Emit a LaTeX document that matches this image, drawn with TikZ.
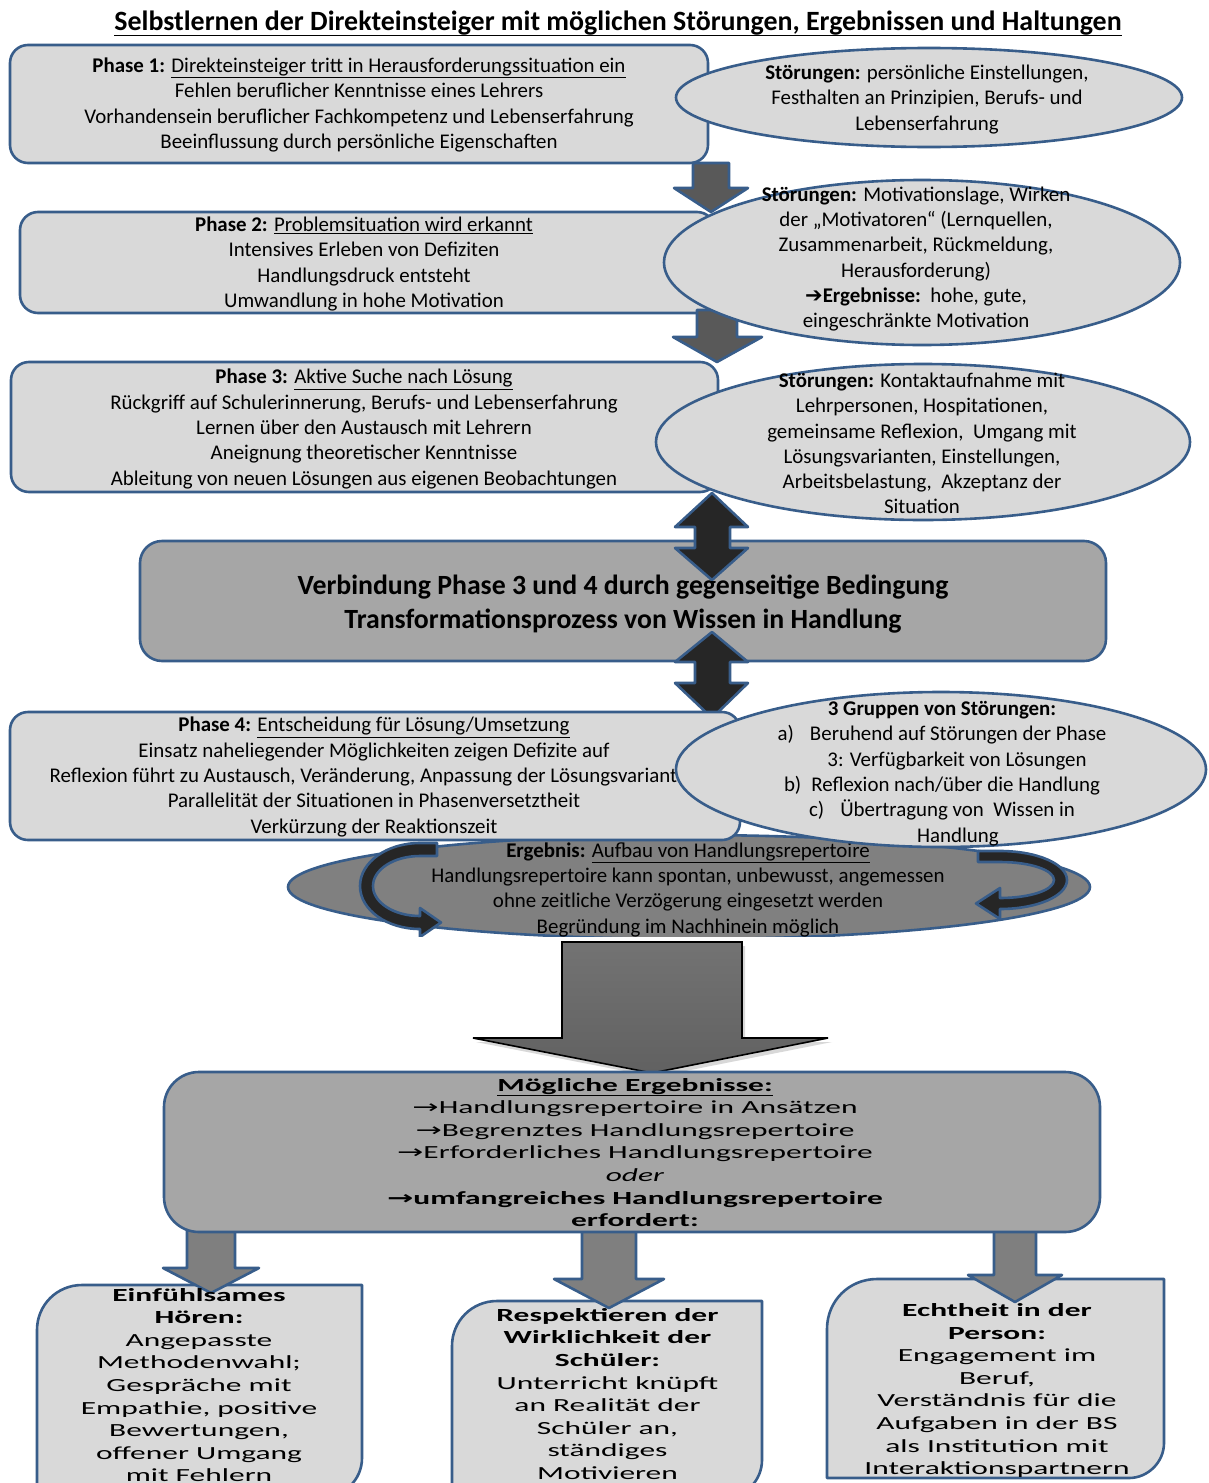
\documentclass[tikz,border=0pt]{standalone}
\usepackage{fontspec}
\setmainfont{Carlito}
\newfontfamily\widefont[FakeStretch=1.7]{Carlito}
\newfontfamily\symfont{DejaVu Sans}
\newfontfamily\symwidefont[FakeStretch=1.7]{DejaVu Sans}
\usetikzlibrary{shapes.geometric}

\newcommand\bodysize{\fontsize{20.9pt}{25.3pt}\selectfont}
\newcommand\widesize{\widefont\fontsize{18.5pt}{22.6pt}\selectfont}
\newcommand\thinarrow{{\symwidefont →}}

\definecolor{edgeblue}{RGB}{56,93,138}
\definecolor{lightfill}{RGB}{217,217,217}
\definecolor{midfill}{RGB}{166,166,166}
\definecolor{resfill}{RGB}{128,128,128}
\definecolor{arrowdark}{RGB}{89,89,89}
\definecolor{arrowblack}{RGB}{38,38,38}
\definecolor{arrowgray}{RGB}{127,127,127}

\tikzset{
  blueline/.style={draw=edgeblue, line width=2.6pt, line join=round},
  lightbox/.style={blueline, fill=lightfill, rectangle, rounded corners=18pt, inner sep=0pt},
  lightoval/.style={blueline, fill=lightfill, ellipse, inner sep=0pt},
  txt/.style={align=center, inner sep=0pt, font=\bodysize},
  widetxt/.style={align=center, inner sep=0pt, font=\widesize},
}

\begin{document}
\begin{tikzpicture}[x=1pt,y=-1pt]
\path[use as bounding box, clip] (0,0) rectangle (1208,1483);
\fill[white] (0,0) rectangle (1208,1483);

% heading
\node[inner sep=0pt, font=\bfseries\fontsize{27.9pt}{32pt}\selectfont] (title) at (618,23)
  {Selbstlernen der Direkteinsteiger mit möglichen Störungen, Ergebnissen und Haltungen};
\draw[line width=1.8pt] ([yshift=-5pt]title.base west) -- ([yshift=-5pt]title.base east);

% phase boxes 1-3
\node[lightbox, minimum width=698pt, minimum height=118pt] (p1) at (359,104) {};
\node[lightbox, minimum width=695pt, minimum height=101pt] (p2) at (367.5,262.5) {};
\node[lightbox, minimum width=707pt, minimum height=130pt] (p3) at (364.5,427) {};

\node[txt] (p1t) at (359,105) {\textbf{Phase 1:} \underline{Direkteinsteiger tritt in Herausforderungssituation ein}\\
  Fehlen beruflicher Kenntnisse eines Lehrers\\
  Vorhandensein beruflicher Fachkompetenz und Lebenserfahrung\\
  Beeinflussung durch persönliche Eigenschaften};
\node[txt] (p2t) at (364,264) {\textbf{Phase 2:} \underline{Problemsituation wird erkannt}\\
  Intensives Erleben von Defiziten\\
  Handlungsdruck entsteht\\
  Umwandlung in hohe Motivation};
\node[txt] (p3t) at (364,429) {\textbf{Phase 3:} \underline{Aktive Suche nach Lösung}\\
  Rückgriff auf Schulerinnerung, Berufs- und Lebenserfahrung\\
  Lernen über den Austausch mit Lehrern\\
  Aneignung theoretischer Kenntnisse\\
  Ableitung von neuen Lösungen aus eigenen Beobachtungen};

% block arrows between the phases
\draw[blueline, fill=arrowdark] (693,163) -- (729,163) -- (729,188) -- (748,188) -- (711,212)
  -- (674,188) -- (693,188) -- cycle;
\draw[blueline, fill=arrowdark] (697,310) -- (737,310) -- (737,337) -- (762,337) -- (717,362)
  -- (673,337) -- (697,337) -- cycle;

% disturbance ovals
\node[lightoval, minimum width=506pt, minimum height=99pt] (e1) at (929,97.5) {};
\node[lightoval, minimum width=516pt, minimum height=165pt] (e2) at (922,262.5) {};
\node[lightoval, minimum width=534pt, minimum height=156pt] (e3) at (923,442) {};

\node[txt] (e1t) at (927,99.5) {\textbf{Störungen:} persönliche Einstellungen,\\
  Festhalten an Prinzipien, Berufs- und\\ Lebenserfahrung};
\node[txt] (e2t) at (916,259) {\textbf{Störungen:} Motivationslage, Wirken\\
  der „Motivatoren“ (Lernquellen,\\
  Zusammenarbeit, Rückmeldung,\\
  Herausforderung)\\
  {\symfont\bfseries\fontsize{21pt}{25.3pt}\selectfont ➔}\textbf{Ergebnisse:}\ \ hohe, gute,\\
  eingeschränkte Motivation};
\node[txt] (e3t) at (922,443.5) {\textbf{Störungen:} Kontaktaufnahme mit\\
  Lehrpersonen, Hospitationen,\\
  gemeinsame Reflexion,\ \ Umgang mit\\
  Lösungsvarianten, Einstellungen,\\
  Arbeitsbelastung,\ \ Akzeptanz der\\
  Situation};

% central box linking phase 3 and 4
\node[blueline, fill=midfill, rectangle, rounded corners=22pt, minimum width=966pt,
  minimum height=120pt, inner sep=0pt] (mid) at (623,601) {};
\node[txt, font=\bfseries\fontsize{27.8pt}{34pt}\selectfont] (midt) at (623,604)
  {Verbindung Phase 3 und 4 durch gegenseitige Bedingung\\Transformationsprozess von Wissen in Handlung};

% double-headed block arrows
\draw[blueline, fill=arrowblack] (712,493) -- (748,527) -- (730,527) -- (730,548) -- (748,548)
  -- (712,580) -- (675,548) -- (695,548) -- (695,527) -- (675,527) -- cycle;
\draw[blueline, fill=arrowblack] (712,632) -- (748,662) -- (730,662) -- (730,683) -- (748,683)
  -- (712,718) -- (675,683) -- (695,683) -- (695,662) -- (675,662) -- cycle;

% result oval with the two circular arrows
\begin{scope}
  \clip (0,780) rectangle (1208,936);
  \node[blueline, fill=resfill, ellipse, minimum width=802pt, minimum height=104pt,
    inner sep=0pt] (res) at (689,887) {};
  \draw[blueline, fill=arrowblack] (437,843) -- (420,843)
    .. controls (387,843) and (360,862) .. (360,886)
    .. controls (360,910) and (387,929) .. (420,929)
    -- (420,937) -- (441,922.5) -- (420,908) -- (420,916)
    .. controls (394,916) and (373,902.6) .. (373,886)
    .. controls (373,869.4) and (394,856) .. (420,856) -- (437,856) -- cycle;
  \draw[blueline, fill=arrowblack] (978,851) -- (1000,851)
    .. controls (1037,851) and (1067,864) .. (1067,880)
    .. controls (1067,896) and (1037,909) .. (1000,909)
    -- (1000,919) -- (976,903.5) -- (1000,888) -- (1000,898)
    .. controls (1030,898) and (1054,890) .. (1054,880)
    .. controls (1054,870) and (1030,862) .. (1000,862) -- (978,862) -- cycle;
  \node[txt] (rest) at (688,889.5) {\textbf{Ergebnis:} \underline{Aufbau von Handlungsrepertoire}\\
    Handlungsrepertoire kann spontan, unbewusst, angemessen\\
    ohne zeitliche Verzögerung eingesetzt werden\\
    Begründung im Nachhinein möglich};
\end{scope}

% phase 4
\node[lightbox, minimum width=730pt, minimum height=128pt] (p4) at (375,776) {};
\node[txt] (p4t) at (374,777) {\textbf{Phase 4:} \underline{Entscheidung für Lösung/Umsetzung}\\
  Einsatz naheliegender Möglichkeiten zeigen Defizite auf\\
  Reflexion führt zu Austausch, Veränderung, Anpassung der Lösungsvarianten\\
  Parallelität der Situationen in Phasenversetztheit\\
  Verkürzung der Reaktionszeit};
\node[lightoval, minimum width=530pt, minimum height=155pt] (e4) at (941,769.5) {};
\node[txt] (e4t) at (942,773.5) {\textbf{3 Gruppen von Störungen:}\\
  a)\hspace{16pt}Beruhend auf Störungen der Phase\\
  \hspace*{30pt}3: Verfügbarkeit von Lösungen\\
  b)\hspace{10pt}Reflexion nach/über die Handlung\\
  c)\hspace{16pt}Übertragung von\ \ Wissen in\\
  \hspace*{32pt}Handlung};

% large downward arrow
\fill[black!30, opacity=0.5] (565,946) -- (745,946) -- (745,1042) -- (832,1042) -- (655,1077)
  -- (476,1042) -- (565,1042) -- cycle;
\draw[draw=black, line width=1.6pt, top color=black!55, middle color=black, bottom color=black!62]
  (562,942) -- (742,942) -- (742,1038) -- (828,1038) -- (652,1073) -- (473,1038) -- (562,1038) -- cycle;

% attitude boxes
\draw[blueline, fill=lightfill] (37,1500) -- (37,1330) .. controls (37,1305) and (57,1285) .. (82,1285)
  -- (362,1285) -- (362,1458) .. controls (362,1480) and (344,1497) .. (322,1497) -- (37,1497) -- cycle;
\draw[blueline, fill=lightfill] (452,1500) -- (452,1346) .. controls (452,1321) and (472,1301) .. (497,1301)
  -- (762,1301) -- (762,1460) .. controls (762,1480) and (746,1497) .. (727,1497) -- (452,1497) -- cycle;
\draw[blueline, fill=lightfill] (827,1478) -- (827,1329) .. controls (827,1301) and (849,1279) .. (877,1279)
  -- (1164,1279) -- (1164,1443) .. controls (1164,1462) and (1148,1478) .. (1129,1478) -- cycle;

% arrows from the results box
\draw[blueline, fill=arrowgray] (187,1225) -- (235,1225) -- (235,1268) -- (259,1268) -- (211,1293)
  -- (163,1268) -- (187,1268) -- cycle;
\draw[blueline, fill=arrowgray] (582,1225) -- (636,1225) -- (636,1279) -- (664,1279) -- (609,1308)
  -- (554,1279) -- (582,1279) -- cycle;
\draw[blueline, fill=arrowgray] (994,1225) -- (1036,1225) -- (1036,1275) -- (1062,1275) -- (1015,1302)
  -- (968,1275) -- (994,1275) -- cycle;

% possible results
\node[blueline, fill=midfill, rectangle, rounded corners=35pt, minimum width=936pt,
  minimum height=160pt, inner sep=0pt] (poss) at (632,1152) {};
\node[widetxt] (posst) at (635,1152.5) {\underline{\textbf{Mögliche Ergebnisse:}}\\
  \thinarrow Handlungsrepertoire in Ansätzen\\
  \thinarrow Begrenztes Handlungsrepertoire\\
  \thinarrow Erforderliches Handlungsrepertoire\\
  \textit{oder}\\
  \textbf{{\symwidefont\bfseries →}umfangreiches Handlungsrepertoire}\\
  \textbf{erfordert:}};

\node[widetxt] (h1t) at (199,1385) {\textbf{Einfühlsames}\\ \textbf{Hören:}\\ Angepasste\\
  Methodenwahl;\\ Gespräche mit\\ Empathie, positive\\ Bewertungen,\\ offener Umgang\\ mit Fehlern};
\node[widetxt] (h2t) at (607.5,1394) {\textbf{Respektieren der}\\ \textbf{Wirklichkeit der}\\
  \textbf{Schüler:}\\ Unterricht knüpft\\ an Realität der\\ Schüler an,\\ ständiges\\ Motivieren};
\node[widetxt] (h3t) at (997,1390.5) {\textbf{Echtheit in der}\\ \textbf{Person:}\\ Engagement im\\
  Beruf,\\ Verständnis für die\\ Aufgaben in der BS\\ als Institution mit\\ Interaktionspartnern};
\end{tikzpicture}
\end{document}
